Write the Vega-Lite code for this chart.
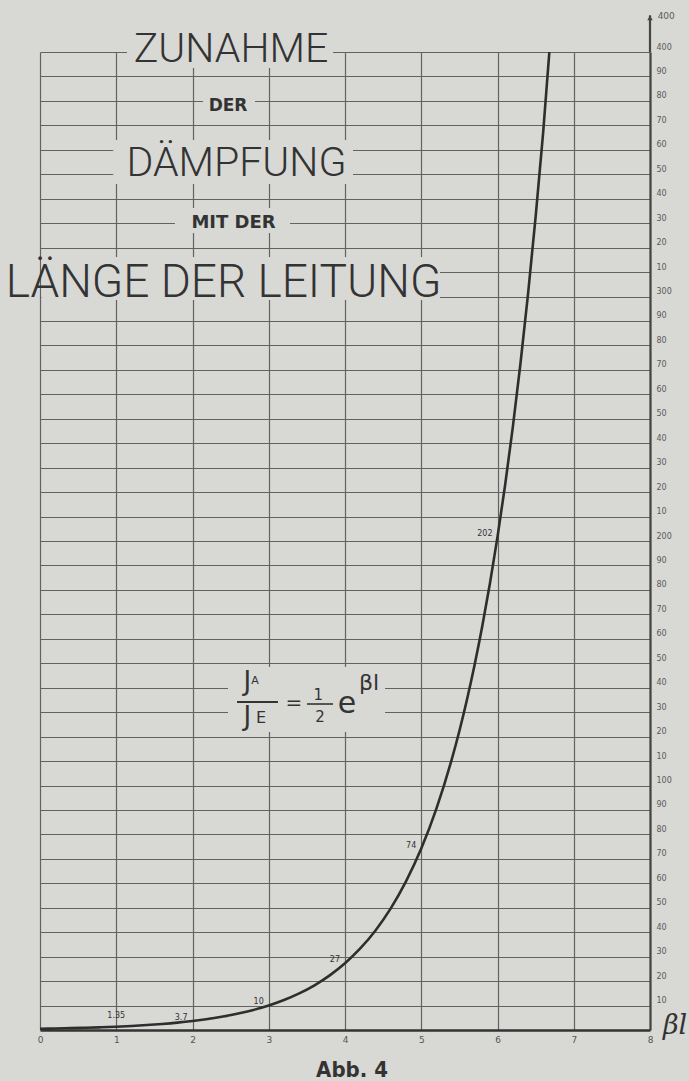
{
  "$schema": "https://vega.github.io/schema/vega-lite/v6.json",
  "width": 610,
  "height": 978,
  "autosize": {"type": "none"},
  "padding": {"left": 40, "top": 52, "right": 39, "bottom": 51},
  "background": "#d8d8d5",
  "config": {"view": {"stroke": null}},
  "datasets": {
    "curve": [
      {"bl": 0, "v": 0.5}, {"bl": 0.2, "v": 0.61}, {"bl": 0.4, "v": 0.75}, {"bl": 0.6, "v": 0.91}, {"bl": 0.8, "v": 1.11},
      {"bl": 1, "v": 1.36}, {"bl": 1.2, "v": 1.66}, {"bl": 1.4, "v": 2.03}, {"bl": 1.6, "v": 2.48}, {"bl": 1.8, "v": 3.02},
      {"bl": 2, "v": 3.69}, {"bl": 2.2, "v": 4.51}, {"bl": 2.4, "v": 5.51}, {"bl": 2.6, "v": 6.73}, {"bl": 2.8, "v": 8.22},
      {"bl": 3, "v": 10.04}, {"bl": 3.2, "v": 12.27}, {"bl": 3.4, "v": 14.98}, {"bl": 3.6, "v": 18.3}, {"bl": 3.8, "v": 22.35},
      {"bl": 4, "v": 27.3}, {"bl": 4.2, "v": 33.34}, {"bl": 4.4, "v": 40.73}, {"bl": 4.6, "v": 49.74}, {"bl": 4.8, "v": 60.76},
      {"bl": 5, "v": 74.21}, {"bl": 5.2, "v": 90.64}, {"bl": 5.4, "v": 110.7}, {"bl": 5.5, "v": 122.3}, {"bl": 5.6, "v": 135.2},
      {"bl": 5.7, "v": 149.4}, {"bl": 5.8, "v": 165.1}, {"bl": 5.9, "v": 182.5}, {"bl": 6, "v": 201.7}, {"bl": 6.1, "v": 222.9},
      {"bl": 6.2, "v": 246.4}, {"bl": 6.3, "v": 272.3}, {"bl": 6.4, "v": 300.9}, {"bl": 6.5, "v": 332.6}, {"bl": 6.6, "v": 367.5},
      {"bl": 6.68, "v": 400}
    ],
    "pointlabels": [
      {"bl": 2, "v": 3.69, "lab": "3.7"},
      {"bl": 3, "v": 10.04, "lab": "10"},
      {"bl": 4, "v": 27.3, "lab": "27"},
      {"bl": 5, "v": 74.21, "lab": "74"},
      {"bl": 6, "v": 201.7, "lab": "202"}
    ],
    "firstlabel": [{"bl": 1, "v": 1.36, "lab": "1.35"}]
  },
  "layer": [
    {"data": {"values": [{}]}, "mark": {"type": "rect", "color": "#d8d8d5", "strokeWidth": 0},
     "encoding": {"x": {"datum": 1.141, "type": "quantitative"}, "x2": {"datum": 3.843}, "y": {"datum": 393.5, "type": "quantitative"}, "y2": {"datum": 412.3}}},
    {"data": {"values": [{}]}, "mark": {"type": "rect", "color": "#d8d8d5", "strokeWidth": 0},
     "encoding": {"x": {"datum": 2.138, "type": "quantitative"}, "x2": {"datum": 2.82}, "y": {"datum": 374.2, "type": "quantitative"}, "y2": {"datum": 383.6}}},
    {"data": {"values": [{}]}, "mark": {"type": "rect", "color": "#d8d8d5", "strokeWidth": 0},
     "encoding": {"x": {"datum": 0.96, "type": "quantitative"}, "x2": {"datum": 4.105}, "y": {"datum": 346.0, "type": "quantitative"}, "y2": {"datum": 364.0}}},
    {"data": {"values": [{}]}, "mark": {"type": "rect", "color": "#d8d8d5", "strokeWidth": 0},
     "encoding": {"x": {"datum": 1.77, "type": "quantitative"}, "x2": {"datum": 3.279}, "y": {"datum": 326.0, "type": "quantitative"}, "y2": {"datum": 336.2}}},
    {"data": {"values": [{}]}, "mark": {"type": "rect", "color": "#d8d8d5", "strokeWidth": 0},
     "encoding": {"x": {"datum": 0.02, "type": "quantitative"}, "x2": {"datum": 5.246}, "y": {"datum": 298.6, "type": "quantitative"}, "y2": {"datum": 316.2}}},
    {"data": {"values": [{}]}, "mark": {"type": "rect", "color": "#d8d8d5", "strokeWidth": 0},
     "encoding": {"x": {"datum": 2.466, "type": "quantitative"}, "x2": {"datum": 4.525}, "y": {"datum": 121.9, "type": "quantitative"}, "y2": {"datum": 148.5}}},
    {
      "data": {"name": "curve"},
      "mark": {"type": "line", "color": "#2e2e2e", "strokeWidth": 2.6, "interpolate": "monotone"},
      "encoding": {
        "x": {"field": "bl", "type": "quantitative",
          "scale": {"domain": [0, 8], "nice": false, "zero": false},
          "axis": {"values": [0, 1, 2, 3, 4, 5, 6, 7, 8], "tickCount": 20, "format": "d", "grid": true, "gridColor": "#626262", "gridWidth": 1.2,
            "ticks": false, "domain": true, "domainColor": "#333333", "domainWidth": 2.6,
            "labelFontSize": 9, "labelColor": "#555555", "labelPadding": 5, "labelFont": "DejaVu Sans",
            "labelFlush": false, "title": null}},
        "y": {"field": "v", "type": "quantitative",
          "scale": {"domain": [0, 400], "nice": false, "zero": false},
          "axis": {"orient": "right", "tickCount": 100,
            "values": [10,20,30,40,50,60,70,80,90,100,110,120,130,140,150,160,170,180,190,200,210,220,230,240,250,260,270,280,290,300,310,320,330,340,350,360,370,380,390,400],
            "grid": true, "gridColor": "#626262", "gridWidth": 1.2, "ticks": false,
            "domain": true, "domainColor": "#444444", "domainWidth": 2.2,
            "labelFontSize": 8, "labelColor": "#5a5a5a", "labelPadding": 6, "labelOffset": -5, "labelFont": "DejaVu Sans",
            "labelExpr": "datum.value % 100 == 0 ? datum.label : format(datum.value % 100, 'd')",
            "labelFlush": false, "labelOverlap": false, "title": null}}
      }
    },
    {"data": {"name": "firstlabel"}, "mark": {"type": "text", "fontSize": 8, "color": "#333333", "align": "center", "dy": -11, "font": "DejaVu Sans"},
     "encoding": {"x": {"field": "bl", "type": "quantitative"}, "y": {"field": "v", "type": "quantitative"}, "text": {"field": "lab"}}},
    {"data": {"name": "pointlabels"}, "mark": {"type": "text", "fontSize": 8, "color": "#333333", "align": "right", "dx": -5, "dy": -3, "font": "DejaVu Sans"},
     "encoding": {"x": {"field": "bl", "type": "quantitative"}, "y": {"field": "v", "type": "quantitative"}, "text": {"field": "lab"}}},
    {"data": {"values": [{}]}, "mark": {"type": "text", "text": "ZUNAHME", "fontSize": 41, "fontWeight": 300, "font": "Roboto, DejaVu Sans Condensed, sans-serif", "color": "#333333", "align": "center", "baseline": "alphabetic"},
     "encoding": {"x": {"datum": 2.505, "type": "quantitative"}, "y": {"datum": 395.9, "type": "quantitative"}}},
    {"data": {"values": [{}]}, "mark": {"type": "text", "text": "DER", "fontSize": 17, "fontWeight": "bold", "font": "DejaVu Sans", "color": "#333333", "align": "center", "baseline": "alphabetic"},
     "encoding": {"x": {"datum": 2.466, "type": "quantitative"}, "y": {"datum": 375.9, "type": "quantitative"}}},
    {"data": {"values": [{}]}, "mark": {"type": "text", "text": "DÄMPFUNG", "fontSize": 41, "fontWeight": 300, "font": "Roboto, DejaVu Sans Condensed, sans-serif", "color": "#333333", "align": "center", "baseline": "alphabetic"},
     "encoding": {"x": {"datum": 2.577, "type": "quantitative"}, "y": {"datum": 349.3, "type": "quantitative"}}},
    {"data": {"values": [{}]}, "mark": {"type": "text", "text": "MIT DER", "fontSize": 18, "fontWeight": "bold", "font": "DejaVu Sans", "color": "#333333", "align": "center", "baseline": "alphabetic"},
     "encoding": {"x": {"datum": 2.538, "type": "quantitative"}, "y": {"datum": 328.0, "type": "quantitative"}}},
    {"data": {"values": [{}]}, "mark": {"type": "text", "text": "LÄNGE DER LEITUNG", "fontSize": 46, "fontWeight": 300, "font": "Roboto, DejaVu Sans Condensed, sans-serif", "color": "#333333", "align": "center", "baseline": "alphabetic"},
     "encoding": {"x": {"datum": 2.407, "type": "quantitative"}, "y": {"datum": 300.0, "type": "quantitative"}}},
    {"data": {"values": [{}]}, "mark": {"type": "text", "text": "J", "fontSize": 26, "font": "DejaVu Sans", "color": "#333333", "align": "center", "baseline": "alphabetic"},
     "encoding": {"x": {"datum": 2.72, "type": "quantitative"}, "y": {"datum": 139.06, "type": "quantitative"}}},
    {"data": {"values": [{}]}, "mark": {"type": "text", "text": "A", "fontSize": 11, "font": "DejaVu Sans", "color": "#333333", "align": "center", "baseline": "alphabetic"},
     "encoding": {"x": {"datum": 2.82, "type": "quantitative"}, "y": {"datum": 141.5, "type": "quantitative"}}},
    {"data": {"values": [{}]}, "mark": {"type": "rule", "color": "#333333", "strokeWidth": 1.8},
     "encoding": {"x": {"datum": 2.584, "type": "quantitative"}, "x2": {"datum": 3.121}, "y": {"datum": 134.15, "type": "quantitative"}}},
    {"data": {"values": [{}]}, "mark": {"type": "text", "text": "J", "fontSize": 26, "font": "DejaVu Sans", "color": "#333333", "align": "center", "baseline": "alphabetic"},
     "encoding": {"x": {"datum": 2.72, "type": "quantitative"}, "y": {"datum": 124.74, "type": "quantitative"}}},
    {"data": {"values": [{}]}, "mark": {"type": "text", "text": "E", "fontSize": 16, "font": "DejaVu Sans", "color": "#333333", "align": "center", "baseline": "alphabetic"},
     "encoding": {"x": {"datum": 2.9, "type": "quantitative"}, "y": {"datum": 125.56, "type": "quantitative"}}},
    {"data": {"values": [{}]}, "mark": {"type": "text", "text": "=", "fontSize": 20, "font": "DejaVu Sans", "color": "#333333", "align": "center", "baseline": "middle"},
     "encoding": {"x": {"datum": 3.331, "type": "quantitative"}, "y": {"datum": 133.74, "type": "quantitative"}}},
    {"data": {"values": [{}]}, "mark": {"type": "text", "text": "1", "fontSize": 15, "font": "DejaVu Sans", "color": "#333333", "align": "center", "baseline": "alphabetic"},
     "encoding": {"x": {"datum": 3.65, "type": "quantitative"}, "y": {"datum": 134.97, "type": "quantitative"}}},
    {"data": {"values": [{}]}, "mark": {"type": "rule", "color": "#333333", "strokeWidth": 1.6},
     "encoding": {"x": {"datum": 3.502, "type": "quantitative"}, "x2": {"datum": 3.843}, "y": {"datum": 133.33, "type": "quantitative"}}},
    {"data": {"values": [{}]}, "mark": {"type": "text", "text": "2", "fontSize": 15, "font": "DejaVu Sans", "color": "#333333", "align": "center", "baseline": "alphabetic"},
     "encoding": {"x": {"datum": 3.672, "type": "quantitative"}, "y": {"datum": 125.97, "type": "quantitative"}}},
    {"data": {"values": [{}]}, "mark": {"type": "text", "text": "e", "fontSize": 30, "font": "DejaVu Sans", "color": "#333333", "align": "center", "baseline": "alphabetic"},
     "encoding": {"x": {"datum": 4.026, "type": "quantitative"}, "y": {"datum": 129.65, "type": "quantitative"}}},
    {"data": {"values": [{}]}, "mark": {"type": "text", "text": "βl", "fontSize": 22, "font": "DejaVu Sans", "color": "#333333", "align": "center", "baseline": "alphabetic"},
     "encoding": {"x": {"datum": 4.315, "type": "quantitative"}, "y": {"datum": 139.06, "type": "quantitative"}}},
    {"data": {"values": [{}]}, "mark": {"type": "text", "text": "βl", "fontSize": 27, "fontStyle": "italic", "font": "DejaVu Serif", "color": "#333333", "align": "left", "baseline": "alphabetic"},
     "encoding": {"x": {"datum": 8.17, "type": "quantitative"}, "y": {"datum": -1.5, "type": "quantitative"}}},
    {"data": {"values": [{}]}, "mark": {"type": "text", "text": "Abb. 4", "fontSize": 22, "fontWeight": "bold", "font": "Liberation Sans Narrow, DejaVu Sans Condensed, sans-serif", "color": "#333333", "align": "center", "baseline": "alphabetic"},
     "encoding": {"x": {"datum": 4.092, "type": "quantitative"}, "y": {"datum": -19.2, "type": "quantitative"}}},
    {"data": {"values": [{}]}, "mark": {"type": "rule", "color": "#444444", "strokeWidth": 2.2},
     "encoding": {"x": {"datum": 8, "type": "quantitative"}, "y": {"datum": 400, "type": "quantitative"}, "y2": {"datum": 415}}},
    {"data": {"values": [{}]}, "mark": {"type": "point", "shape": "triangle-up", "filled": true, "size": 30, "color": "#444444", "opacity": 1},
     "encoding": {"x": {"datum": 8, "type": "quantitative"}, "y": {"datum": 414, "type": "quantitative"}}},
    {"data": {"values": [{}]}, "mark": {"type": "text", "text": "400", "fontSize": 9, "font": "DejaVu Sans", "color": "#5a5a5a", "align": "left", "baseline": "middle"},
     "encoding": {"x": {"datum": 8.1, "type": "quantitative"}, "y": {"datum": 414.7, "type": "quantitative"}}}
  ]
}
